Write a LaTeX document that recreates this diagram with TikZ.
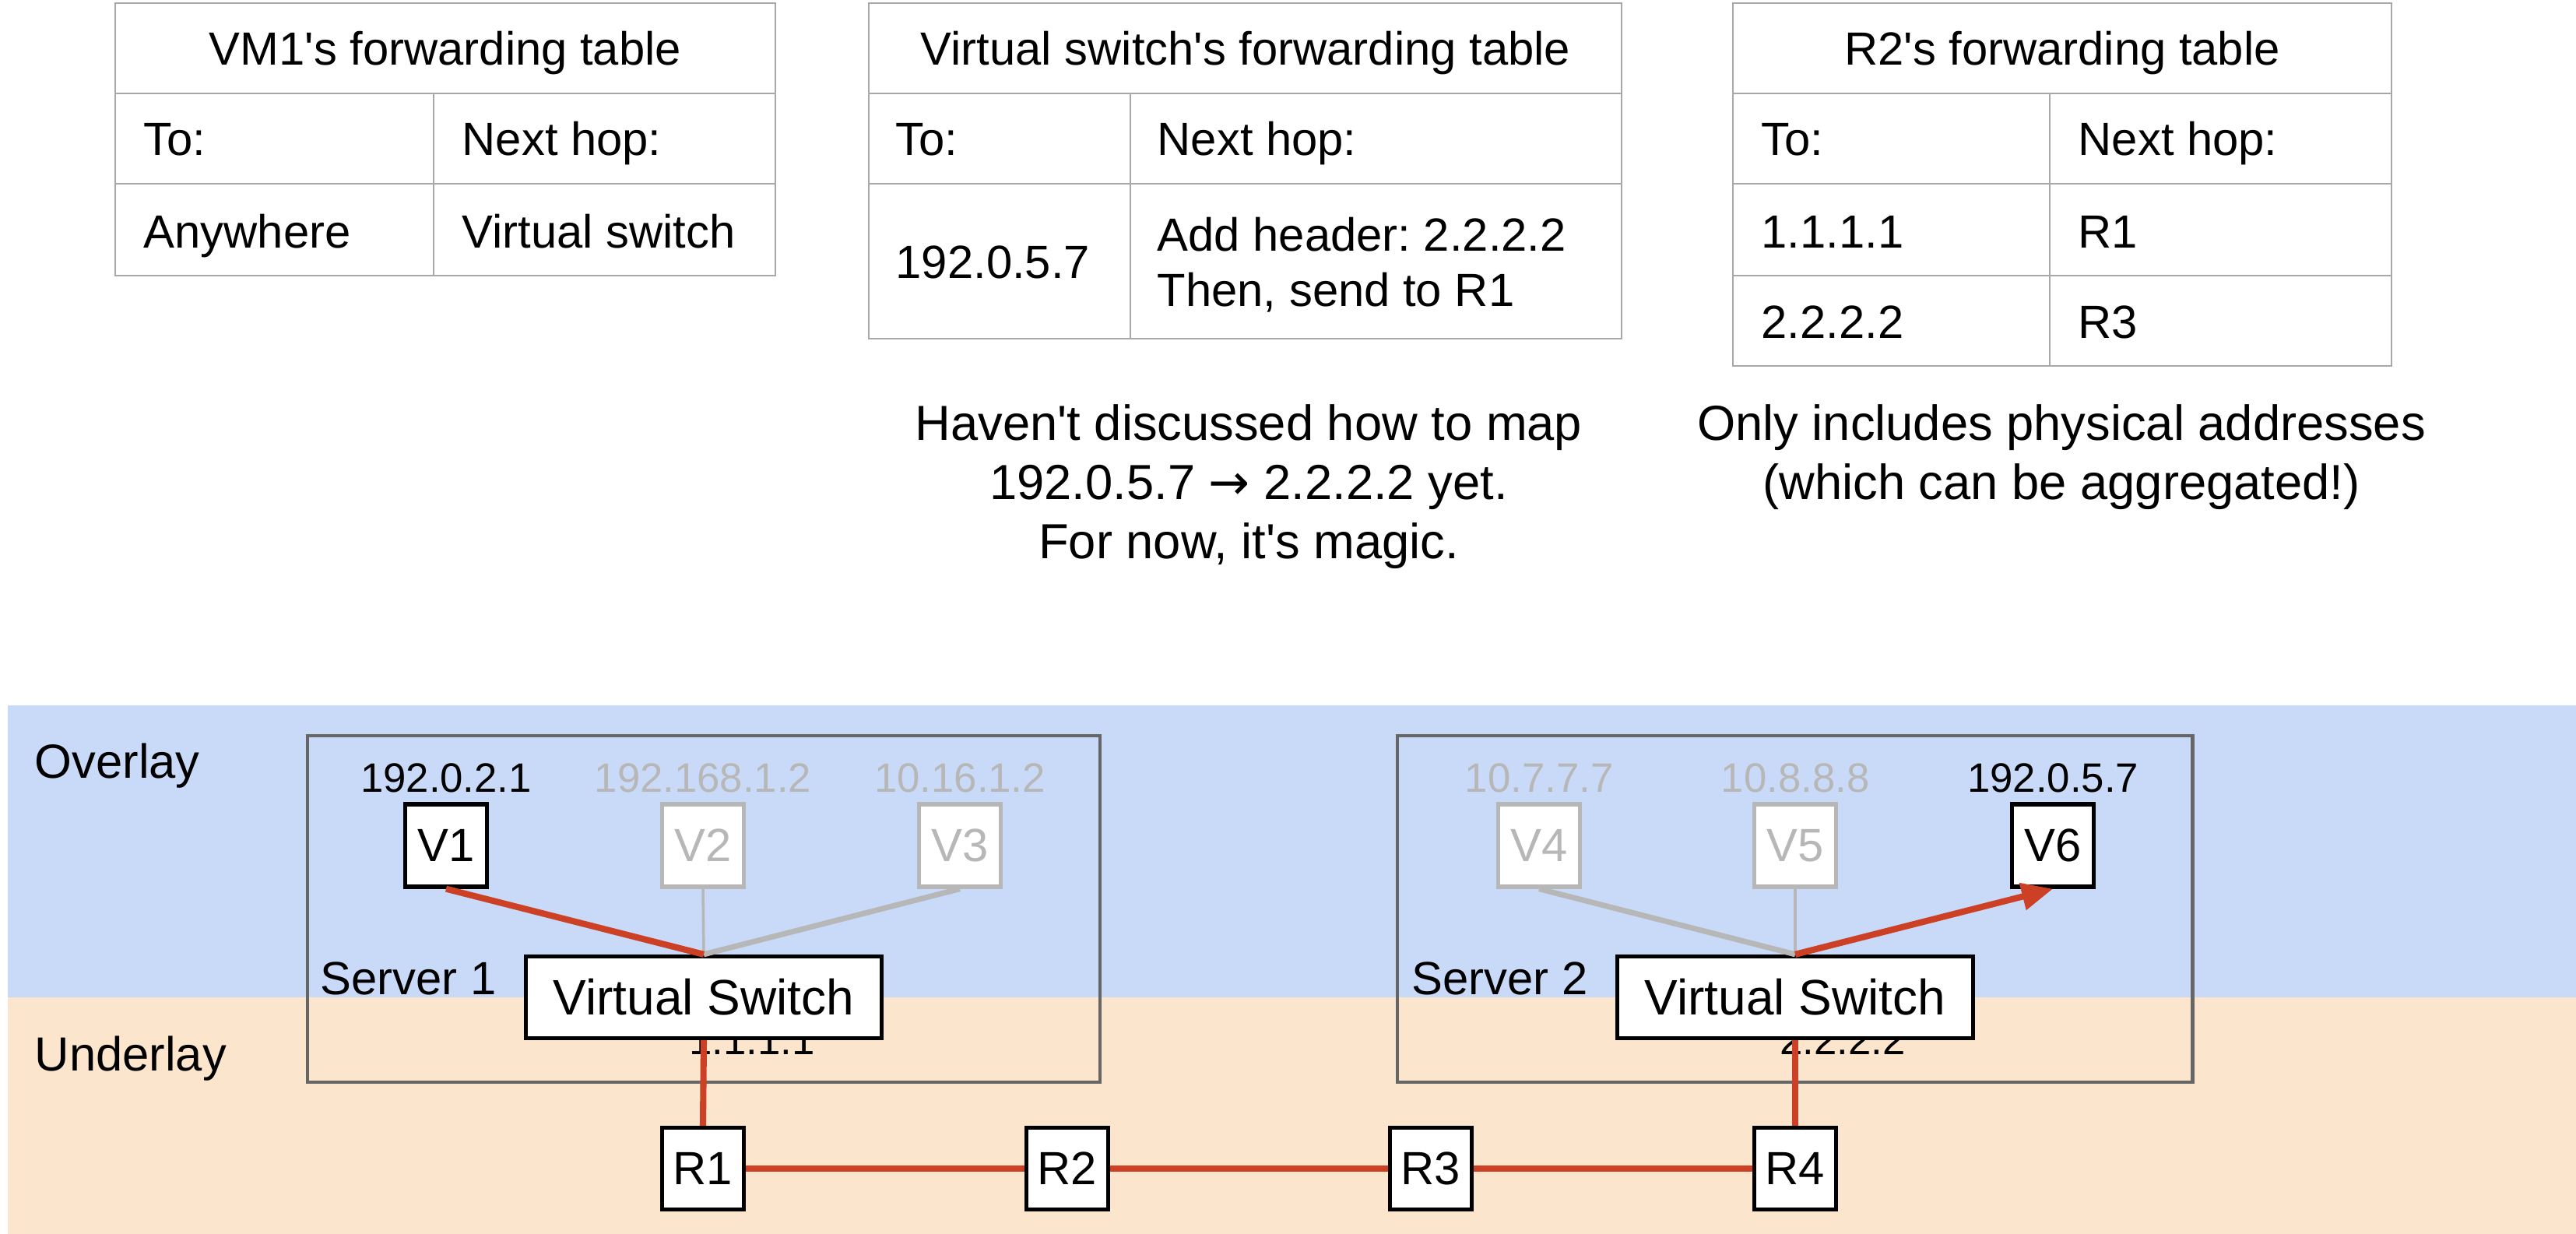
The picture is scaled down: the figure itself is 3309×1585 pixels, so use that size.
\documentclass[tikz,border=0pt]{standalone}
\usepackage{fontspec}
\setmainfont{Liberation Sans}
\newfontfamily\arrowfont{DejaVu Sans}
\usetikzlibrary{arrows.meta}
\definecolor{ovl}{HTML}{C9DAF8}
\definecolor{unl}{HTML}{FCE5CD}
\definecolor{lnk}{HTML}{CC4125}
\definecolor{dim}{HTML}{B7B7B7}
\definecolor{srv}{HTML}{666666}
\definecolor{tbl}{HTML}{A8A8A8}
\frenchspacing
\newcommand{\q}{\textquotesingle}
\begin{document}
\begin{tikzpicture}[x=0.01cm,y=-0.01cm,
  tline/.style={draw=tbl,line width=0.8pt},
  ttext/.style={font=\fontsize{17pt}{20pt}\selectfont,inner sep=0pt},
  ann/.style={font=\fontsize{18pt}{21.6pt}\selectfont,inner sep=0pt,anchor=base},
  lbl/.style={font=\fontsize{17.5pt}{20pt}\selectfont,inner sep=0pt,anchor=base west},
  ip/.style={font=\fontsize{15pt}{18pt}\selectfont,inner sep=0pt,anchor=base},
  vm/.style={draw=black,fill=white,line width=1.5pt,minimum width=1.05cm,minimum height=1.06cm,inner sep=0pt,font=\fontsize{17pt}{20pt}\selectfont},
  vmdim/.style={vm,draw=dim,text=dim},
  rtr/.style={vm,minimum height=1.05cm},
  vsw/.style={draw=black,fill=white,line width=1.5pt,minimum width=4.57cm,minimum height=1.05cm,inner sep=0pt,font=\fontsize{18.2pt}{20pt}\selectfont},
  srvbox/.style={draw=srv,line width=1.4pt},
  link/.style={draw=lnk,line width=2.3pt},
  dimthick/.style={draw=dim,line width=2pt},
  dimthin/.style={draw=dim,line width=1pt}
]
\useasboundingbox (0,0) rectangle (3309,1585);
\fill[white] (0,0) rectangle (3309,1585);
% layers
\fill[ovl] (10,906) rectangle (3309,1281);
\fill[unl] (10,1281) rectangle (3309,1585);

% ---------- Table 1 ----------
\draw[tline] (148,4) rectangle (996,354);
\draw[tline] (148,120) -- (996,120);
\draw[tline] (148,236) -- (996,236);
\draw[tline] (557,120) -- (557,354);
\node[ttext,anchor=base] (t1title) at (572,84) {VM1\q s forwarding table};
\node[ttext,anchor=base west] (t1to) at (184,200) {To:};
\node[ttext,anchor=base west] (t1nh) at (593,200) {Next hop:};
\node[ttext,anchor=base west] (t1a) at (184,318) {Anywhere};
\node[ttext,anchor=base west] (t1b) at (593,318) {Virtual switch};

% ---------- Table 2 ----------
\draw[tline] (1116,4) rectangle (2083,435);
\draw[tline] (1116,120) -- (2083,120);
\draw[tline] (1116,236) -- (2083,236);
\draw[tline] (1452,120) -- (1452,435);
\node[ttext,anchor=base] (t2title) at (1600,84) {Virtual switch\q s forwarding table};
\node[ttext,anchor=base west] (t2to) at (1150,200) {To:};
\node[ttext,anchor=base west] (t2nh) at (1486,200) {Next hop:};
\node[ttext,anchor=base west] (t2a) at (1150,357) {192.0.5.7};
\node[ttext,anchor=base west] (t2b1) at (1486,322) {Add header: 2.2.2.2};
\node[ttext,anchor=base west] (t2b2) at (1486,393) {Then, send to R1};

% ---------- Table 3 ----------
\draw[tline] (2226,4) rectangle (3072,470);
\draw[tline] (2226,120) -- (3072,120);
\draw[tline] (2226,236) -- (3072,236);
\draw[tline] (2226,354) -- (3072,354);
\draw[tline] (2633,120) -- (2633,470);
\node[ttext,anchor=base] (t3title) at (2649,84) {R2\q s forwarding table};
\node[ttext,anchor=base west] (t3to) at (2262,200) {To:};
\node[ttext,anchor=base west] (t3nh) at (2669,200) {Next hop:};
\node[ttext,anchor=base west] (t3a) at (2262,318) {1.1.1.1};
\node[ttext,anchor=base west] (t3b) at (2669,318) {R1};
\node[ttext,anchor=base west] (t3c) at (2262,434) {2.2.2.2};
\node[ttext,anchor=base west] (t3d) at (2669,434) {R3};

% ---------- annotations ----------
\node[ann] (an1a) at (1604,565) {Haven\q t discussed how to map};
\node[ann] (an1b) at (1604,641) {192.0.5.7 {\arrowfont →} 2.2.2.2 yet.};
\node[ann] (an1c) at (1604,717) {For now, it\q s magic.};
\node[ann] (an2a) at (2648,565) {Only includes physical addresses};
\node[ann] (an2b) at (2648,641) {(which can be aggregated!)};

% ---------- layer labels ----------
\node[lbl] (ovlbl) at (44,999) {Overlay};
\node[lbl] (unlbl) at (44,1375) {Underlay};

% ---------- servers ----------
\draw[srvbox] (395,945) rectangle (1413,1390);
\draw[srvbox] (1795,945) rectangle (2816,1390);
\node[lbl,font=\fontsize{17pt}{20pt}\selectfont] (s1lbl) at (411,1277) {Server 1};
\node[lbl,font=\fontsize{17pt}{20pt}\selectfont] (s2lbl) at (1813,1277) {Server 2};
\node[ip] (pa1) at (966,1354) {1.1.1.1};
\node[ip] (pa2) at (2367,1354) {2.2.2.2};

% VM address labels
\node[ip] (ip1) at (573,1017) {192.0.2.1};
\node[ip,text=dim] (ip2) at (903,1017) {192.168.1.2};
\node[ip,text=dim] (ip3) at (1233,1017) {10.16.1.2};
\node[ip,text=dim] (ip4) at (1977,1017) {10.7.7.7};
\node[ip,text=dim] (ip5) at (2306,1017) {10.8.8.8};
\node[ip] (ip6) at (2637,1017) {192.0.5.7};

% VMs
\node[vm] (v1) at (573,1086) {V1};
\node[vmdim] (v2) at (903,1086) {V2};
\node[vmdim] (v3) at (1233,1086) {V3};
\node[vmdim] (v4) at (1977,1086) {V4};
\node[vmdim] (v5) at (2306,1086) {V5};
\node[vm] (v6) at (2637,1086) {V6};

% virtual switches
\node[vsw] (vs1) at (904,1281) {Virtual Switch};
\node[vsw] (vs2) at (2306,1281) {Virtual Switch};

% routers
\node[rtr] (r1) at (903,1501) {R1};
\node[rtr] (r2) at (1371,1501) {R2};
\node[rtr] (r3) at (1838,1501) {R3};
\node[rtr] (r4) at (2306,1501) {R4};

% connectors
\draw[dimthin] (v2.south) -- (vs1.north);
\draw[dimthick] (v3.south) -- (vs1.north);
\draw[link] (v1.south) -- (vs1.north);
\draw[dimthick] (v4.south) -- (vs2.north);
\draw[dimthin] (v5.south) -- (vs2.north);
\draw[link,-{Triangle[length=0.4cm,width=0.34cm]}] (vs2.north) -- (v6.south);
\draw[link] (vs1.south) -- (r1.north);
\draw[link] (r1.east) -- (r2.west);
\draw[link] (r2.east) -- (r3.west);
\draw[link] (r3.east) -- (r4.west);
\draw[link] (r4.north) -- (vs2.south);
\end{tikzpicture}
\end{document}
